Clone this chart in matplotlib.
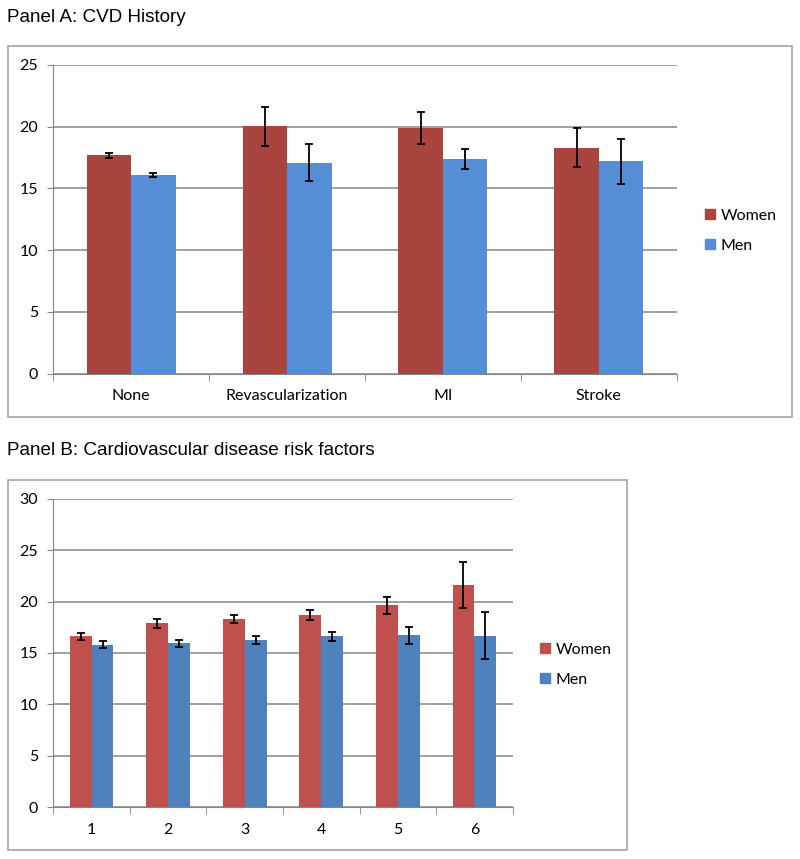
import matplotlib.pyplot as plt
from matplotlib.patches import Rectangle, Patch
import numpy as np

plt.rcParams['font.family'] = ['Lato', 'DejaVu Sans']

# Panel A: CVD history
cats_a = ['None', 'Revascularization', 'MI', 'Stroke']
women_a = [17.7, 20.05, 19.9, 18.3]
women_a_err = [0.2, 1.58, 1.27, 1.56]
men_a = [16.07, 17.08, 17.38, 17.2]
men_a_err = [0.17, 1.5, 0.83, 1.83]

# Panel B: risk factors
cats_b = ['1', '2', '3', '4', '5', '6']
women_b = [16.62, 17.87, 18.3, 18.68, 19.63, 21.6]
women_b_err = [0.36, 0.4, 0.37, 0.47, 0.81, 2.27]
men_b = [15.8, 15.93, 16.24, 16.63, 16.72, 16.66]
men_b_err = [0.36, 0.3, 0.4, 0.44, 0.8, 2.29]

W, H = 800, 859
fig = plt.figure(figsize=(W / 100, H / 100), dpi=100)


def px(x0, y0, x1, y1):
    # pixel box (top-left origin) -> figure fraction [l, b, w, h]
    return [x0 / W, 1 - y1 / H, (x1 - x0) / W, (y1 - y0) / H]


def frame(x0, y0, x1, y1):
    l, b, w, h = px(x0, y0, x1, y1)
    fig.patches.append(Rectangle((l, b), w, h, transform=fig.transFigure,
                                 fill=False, edgecolor='#a6a6a6', lw=1.2))


def panel(box, cats, wv, we, mv, me, ymax, cw, cm, leg_xy):
    ax = fig.add_axes(px(*box))
    x = np.arange(len(cats))
    bw = 1 / 3.5
    ekw = dict(ecolor='black', elinewidth=1.3, capsize=3, capthick=1.3)
    ax.bar(x - bw / 2, wv, bw, color=cw, yerr=we, error_kw=ekw, label='Women', zorder=3)
    ax.bar(x + bw / 2, mv, bw, color=cm, yerr=me, error_kw=ekw, label='Men', zorder=3)
    ax.set_xlim(-0.5, len(cats) - 0.5)
    ax.set_ylim(0, ymax)
    ax.set_yticks(np.arange(0, ymax + 1, 5))
    ax.set_xticks(x)
    ax.set_xticklabels(cats)
    ax.set_xticks(np.arange(-0.5, len(cats), 1), minor=True)
    ax.tick_params(axis='x', which='major', length=0, pad=11, labelsize=11.5)
    ax.tick_params(axis='x', which='minor', length=5, color='#868686', direction='out')
    ax.tick_params(axis='y', length=4, color='#868686', pad=7, labelsize=11.5)
    ax.yaxis.grid(True, color='#868686', lw=1.1)
    ax.set_axisbelow(True)
    for s in ['top', 'right']:
        ax.spines[s].set_visible(False)
    for s in ['left', 'bottom']:
        ax.spines[s].set_color('#868686')
    handles = [Patch(color=cw), Patch(color=cm)]
    fig.legend(handles, ['Women', 'Men'], loc='upper left',
               bbox_to_anchor=(leg_xy[0] / W, 1 - leg_xy[1] / H),
               frameon=False, fontsize=11.5, handlelength=0.6, handleheight=0.6,
               handletextpad=0.4, labelspacing=1.0, borderaxespad=0, borderpad=0)
    return ax


frame(8, 46, 792, 417)
frame(8, 480, 627, 850)

fig.text(7 / W, 1 - 22 / H, 'Panel A: CVD History', fontsize=13.6,
         family='Liberation Sans', va='baseline')
fig.text(7 / W, 1 - 455 / H, 'Panel B: Cardiovascular disease risk factors',
         fontsize=13.6, family='Liberation Sans', va='baseline')

panel((53.3, 65, 676.7, 373.7), cats_a, women_a, women_a_err, men_a, men_a_err,
      25, '#a9443f', '#558ed5', (705, 209))
panel((53.3, 498.7, 512.7, 807.3), cats_b, women_b, women_b_err, men_b, men_b_err,
      30, '#c0504d', '#4f81bd', (540, 643))

fig.savefig('out.png', dpi=100)
